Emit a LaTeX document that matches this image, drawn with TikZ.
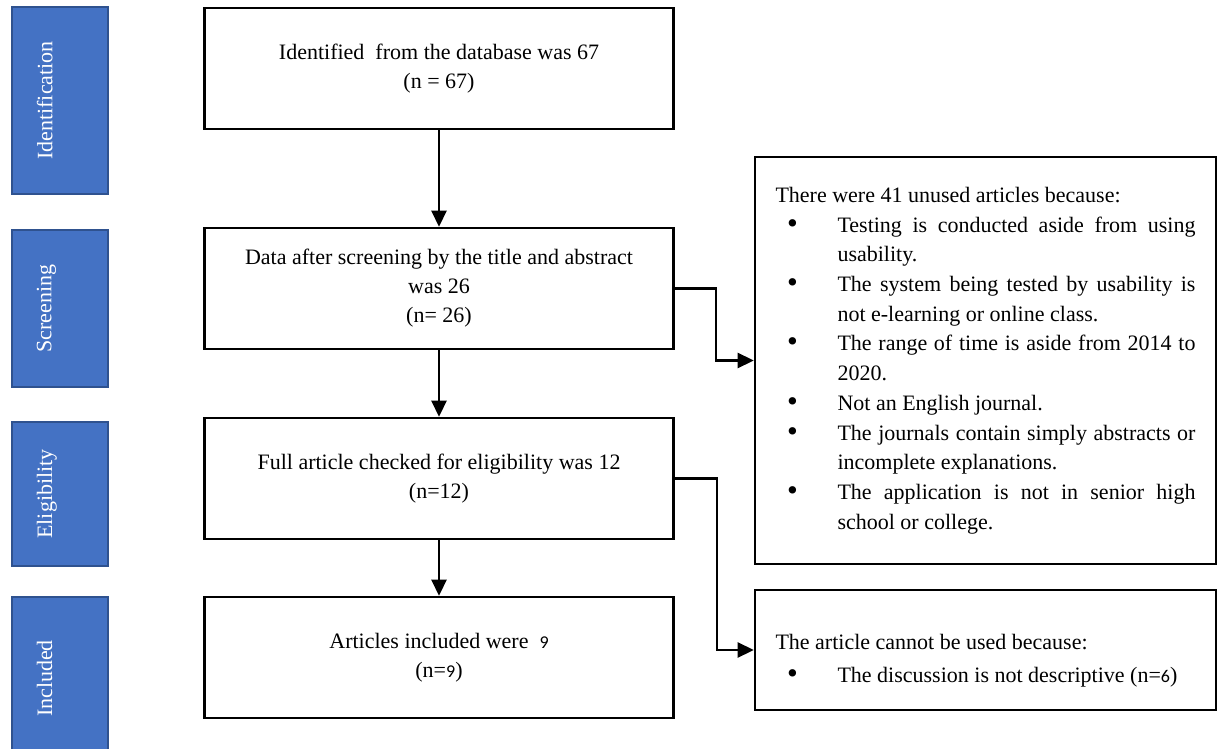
\documentclass[tikz,border=0pt]{standalone}
\usepackage{fontspec}
\setmainfont{Liberation Serif}
\newfontfamily\numfont{Carlito}
\usepackage{xcolor}
\usetikzlibrary{arrows.meta}
\definecolor{phaseblue}{RGB}{68, 114, 196}
\definecolor{phaseedge}{RGB}{47, 82, 143}

\newcommand{\reasonbullet}{\makebox[4pt]{\raisebox{-0.5pt}{\scalebox{1.4}{\textbullet}}}}
\newenvironment{reasonlist}{%
    \begin{list}{\reasonbullet}{%
        \setlength{\leftmargin}{31pt}\setlength{\labelwidth}{4pt}%
        \setlength{\labelsep}{20.5pt}\setlength{\itemsep}{0pt}%
        \setlength{\parsep}{0pt}\setlength{\topsep}{0pt}\setlength{\partopsep}{0pt}}}%
    {\end{list}}

\begin{document}
\begin{tikzpicture}[x=0.5pt, y=-0.5pt,
    phase/.style={draw=phaseedge, fill=phaseblue, line width=0.6pt, minimum width=48pt, inner sep=0pt},
    phaselabel/.style={rotate=90, anchor=north, inner sep=0pt, text=white, font=\fontsize{11}{13}\selectfont},
    stepbox/.style={draw, line width=1.3pt, minimum width=234.5pt, minimum height=60.5pt, align=center, font=\fontsize{11}{14.5}\selectfont},
    reasonbox/.style={draw, line width=1.3pt, text width=210pt, inner xsep=10.25pt, align=justify},
    flow/.style={line width=1.3pt, -{Triangle[length=8pt, width=7.5pt]}}]

    \useasboundingbox (0,0) rectangle (1217,749);

    % Identification phase
    \node[phase, minimum height=93.5pt] (idphase) at (60,100.5) {};
    \node[phaselabel] (idlabel) at ([xshift=12.5pt]idphase.west) {Identification};

    % Screening phase
    \node[phase, minimum height=78.5pt] (scphase) at (60,308.5) {};
    \node[phaselabel] (sclabel) at ([xshift=12.5pt]scphase.west) {Screening};

    % Eligibility phase
    \node[phase, minimum height=72pt] (elphase) at (60,494) {};
    \node[phaselabel] (ellabel) at ([xshift=12.5pt]elphase.west) {Eligibility};

    % Included phase
    \node[phase, minimum height=81.5pt] (inphase) at (60,678.5) {};
    \node[phaselabel] (inlabel) at ([xshift=12.5pt]inphase.west) {Included};

    % Records found in the database
    \node[stepbox] (ident) at (439,68.5) {Identified\ \ from the database was 67\\(n = 67)};

    % Title and abstract screening
    \node[stepbox] (screen) at (439,288.5) {Data after screening by the title and abstract\\was 26\\(n= 26)};

    % Full text check
    \node[stepbox] (elig) at (439,478.5) {Full article checked for eligibility was 12\\(n=12)};

    % Final set
    \node[stepbox] (incl) at (439,657.5) {Articles included were \ {\numfont\fontsize{9}{11}\selectfont 9}\\(n={\numfont\fontsize{9}{11}\selectfont 9})};

    % Reasons after screening
    \node[reasonbox, minimum height=203.5pt, font=\fontsize{11}{14.85}\selectfont] (unused) at (985.5,360.5) {There were 41 unused articles because:
        \begin{reasonlist}
        \item Testing is conducted aside from using\linebreak usability.
        \item The system being tested by usability is\linebreak not e-learning or online class.
        \item The range of time is aside from 2014 to\linebreak 2020.
        \item Not an English journal.
        \item The journals contain simply abstracts or\linebreak incomplete explanations.
        \item The application is not in senior high\linebreak school or college.
        \end{reasonlist}
        \vspace{10pt}};

    % Reasons after full text check
    \node[reasonbox, minimum height=60pt, font=\fontsize{11}{16.5}\selectfont] (unusable) at (985.5,650) {\rule{0pt}{18pt}The article cannot be used because:
        \begin{reasonlist}
        \item The discussion is not descriptive (n={\numfont\fontsize{9}{11}\selectfont 6})
        \end{reasonlist}};

    % Connecting lines
    \draw[flow] (ident) -- (screen);
    \draw[flow] (screen) -- (elig);
    \draw[flow] (elig) -- (incl);
    \draw[flow] (screen.east) -- ++(41,0) |- (unused.west);
    \draw[flow] (elig.east) -- ++(42,0) |- (unusable.west);
\end{tikzpicture}
\end{document}
